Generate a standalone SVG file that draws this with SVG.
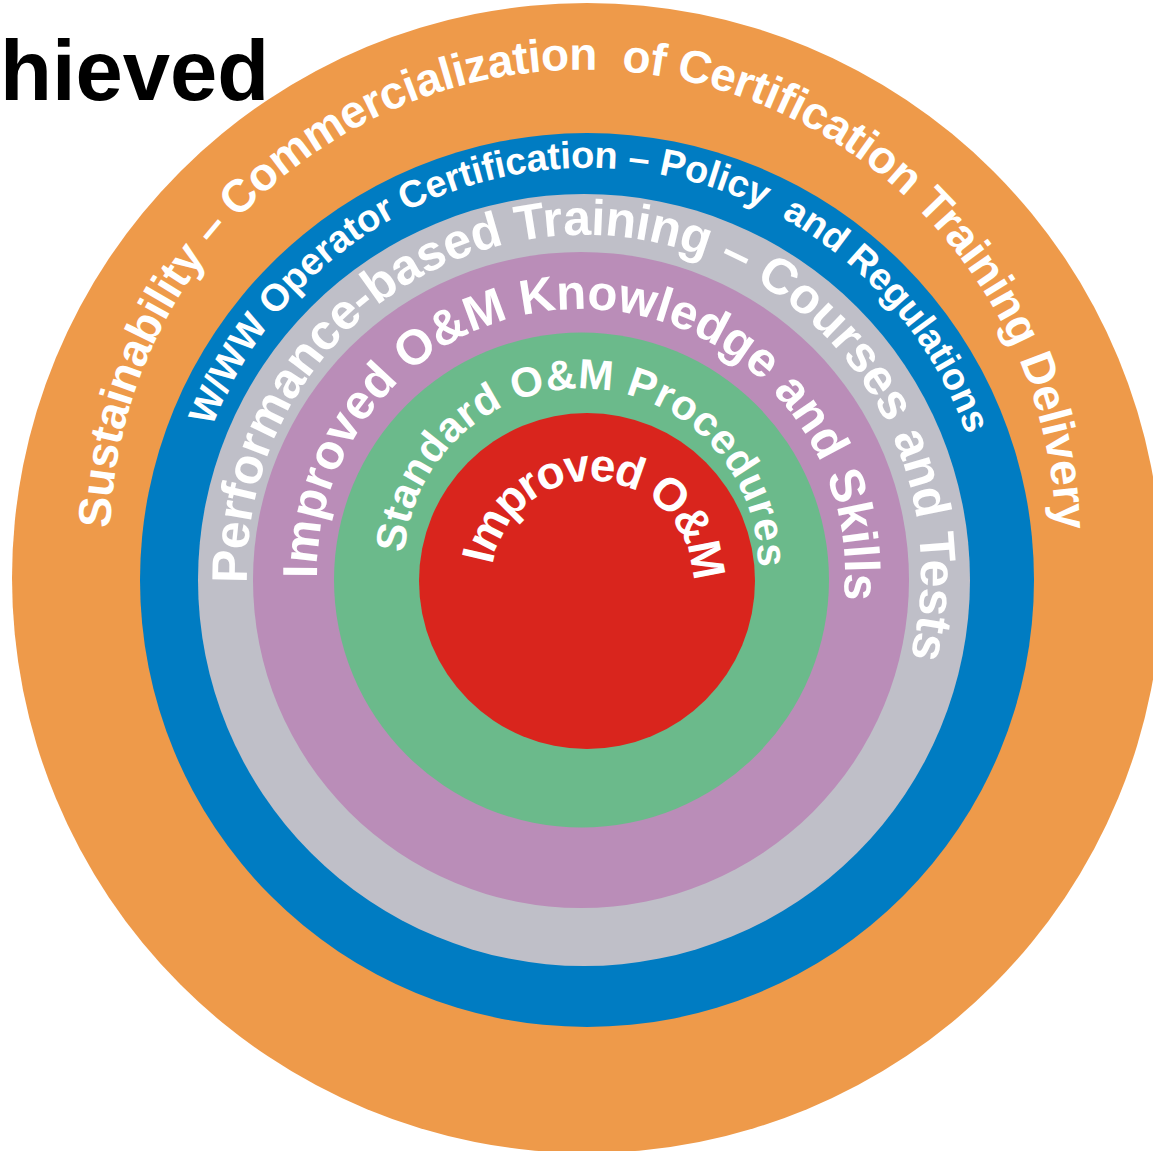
<svg xmlns="http://www.w3.org/2000/svg" width="1153" height="1151" viewBox="0 0 1153 1151">
  <style>
    .lbl { fill: #ffffff; font-family: "Liberation Sans", Arial, sans-serif; font-weight: bold; white-space: pre; }
    .title { fill: #000000; font-family: "Liberation Sans", Arial, sans-serif; font-weight: bold; }
  </style>
  <defs>
    <path id="p-orange" d="M110.2,528.1 A473,473 0 0 1 1055.8,530.0"/>
    <path id="p-blue" d="M212.2,427.2 A402,402 0 0 1 966.5,434.5"/>
    <path id="p-gray" d="M247.2,583.2 A337,337 0 1 1 910.1,656.9"/>
    <path id="p-purple" d="M317.0,578.1 A264,264 0 1 1 843.6,599.7"/>
    <path id="p-green" d="M404.5,553.1 A177,177 0 0 1 758.0,570.1"/>
    <path id="p-red" d="M492.4,565.0 A101,101 0 0 1 693.0,580.1"/>
  </defs>
  <rect width="1153" height="1151" fill="#ffffff"/>
  <g id="ring-sustainability">
    <circle cx="587" cy="578" r="575" fill="#EE9A4A"/>
  </g>
  <g id="ring-certification">
    <circle cx="587" cy="580" r="447" fill="#007CC2"/>
  </g>
  <g id="ring-training">
    <circle cx="584" cy="580" r="386" fill="#BFBFC8"/>
  </g>
  <g id="ring-knowledge">
    <circle cx="581" cy="580" r="328" fill="#BA8DB8"/>
  </g>
  <g id="ring-procedures">
    <circle cx="581.5" cy="580" r="247.5" fill="#6BBA8B"/>
  </g>
  <g id="core-om">
    <circle cx="587" cy="581" r="168" fill="#D9251D"/>
  </g>
  <g id="labels">
    <text class="lbl" font-size="46"><textPath href="#p-orange" textLength="1458" lengthAdjust="spacing">Sustainability – Commercialization  of Certification Training Delivery</textPath></text>
    <text class="lbl" font-size="38"><textPath href="#p-blue" textLength="979" lengthAdjust="spacing">W/WW Operator Certification – Policy  and Regulations</textPath></text>
    <text class="lbl" font-size="50"><textPath href="#p-gray" textLength="1156" lengthAdjust="spacing">Performance-based Training – Courses and Tests</textPath></text>
    <text class="lbl" font-size="49"><textPath href="#p-purple" textLength="861" lengthAdjust="spacing">Improved O&amp;M Knowledge and Skills</textPath></text>
    <text class="lbl" font-size="42"><textPath href="#p-green" textLength="545" lengthAdjust="spacing">Standard O&amp;M Procedures</textPath></text>
    <text class="lbl" font-size="46"><textPath href="#p-red" textLength="300" lengthAdjust="spacing">Improved O&amp;M</textPath></text>
  </g>
  <text class="title" x="0" y="100" font-size="85">hieved</text>
</svg>
